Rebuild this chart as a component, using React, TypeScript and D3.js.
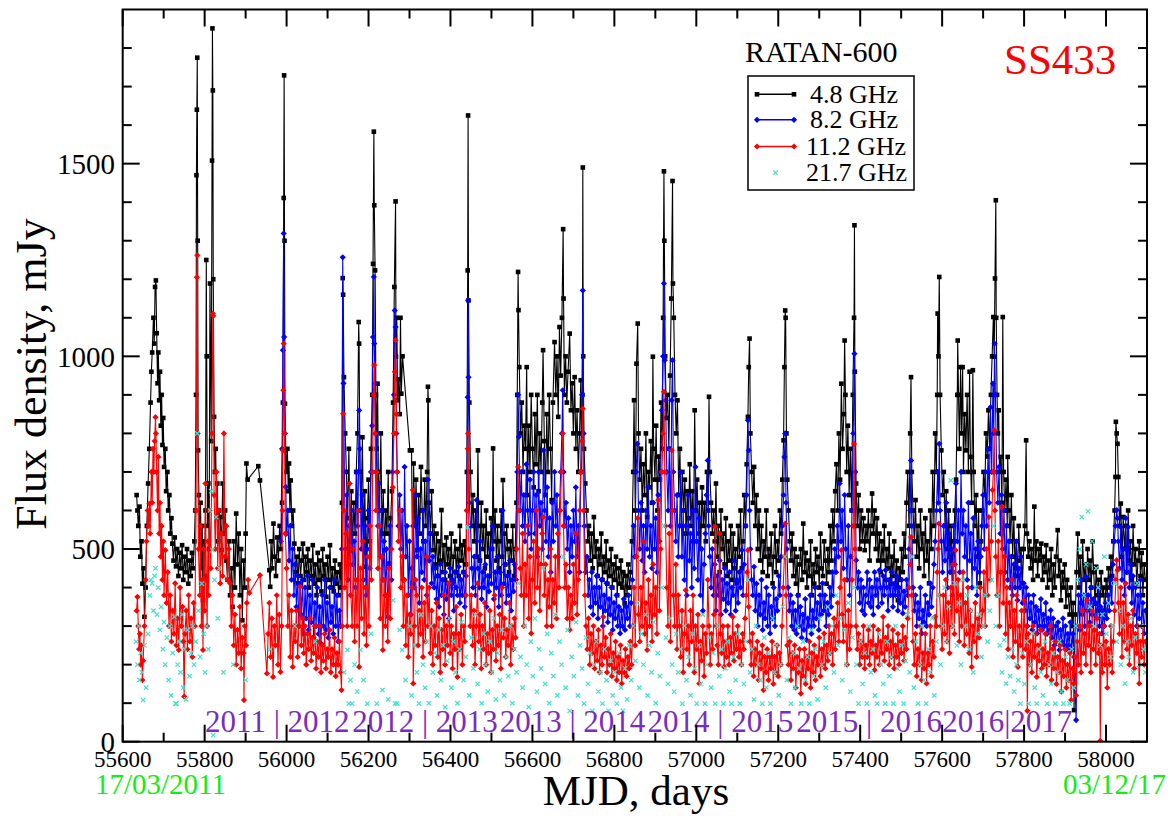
import React from "react";
import * as d3 from "d3";

// RATAN-600 monitoring of SS433, flux density (mJy) vs MJD.
// Days are counted from MJD 55600.
const MJD_ZERO = 55600;

const flux48: [number, number][] = [
  [34,640],[36,600],[38,560],[41,610],[43,480],[46,520],[48,410],[51,450],[53,324],[56,400],[59,560],[62,670],[65,760],[68,880],[70,960],[72,1010],[75,1100],[77,1033],[79,1180],[81,1197],[83,1060],[85,930],[87,1010],[89,886],[91,960],[93,820],[95,900],[97,770],[99,840],[101,713],[104,760],[106,650],[109,700],[111,600],[114,640],[116,540],[119,580],
  [121,514],[124,470],[127,530],[130,455],[133,500],[136,430],[139,490],[142,450],[145,510],[148,420],[151,480],[154,440],[157,500],[160,410],[163,470],[166,430],[169,490],[172,450],[175,520],
  [177,600],[179,900],[180,1470],[181,1640],[182,1775],[183,1300],[184,756],[186,640],[188,500],[190,620],[192,450],[194,560],[196,367],[198,520],[200,430],[202,600],[204,1250],[205,1000],[207,560],[209,670],[211,500],[213,1189],[216,780],[218,1508],[219,1851],[220,1690],[221,1200],[223,843],[225,700],[227,760],[229,583],[231,670],[233,520],[235,600],
  [238,583],[241,497],[244,670],[247,540],[250,600],[253,470],[256,420],[259,520],[262,380],[265,450],[268,350],[271,520],[274,400],[277,592],[280,460],[283,540],[286,380],[289,500],[292,315],[295,470],[298,400],[300,540],[302,722],[305,680],[331,715],[335,678],[358,445],[360,402],
  [362,520],[365,450],[368,566],[371,480],[374,430],[377,530],[380,470],[383,560],[386,500],[389,620],[391,880],[393,1411],[394,1729],[395,1300],[396,877],[398,756],[400,700],[402,760],[404,650],[406,722],[408,600],[410,678],[413,560],[416,600],
  [419,514],[422,440],[425,480],[428,411],[431,500],[434,430],[437,470],[440,514],[443,420],[446,480],[449,440],[452,500],[455,400],[458,470],[461,430],[464,510],[467,410],[470,460],[473,380],[476,490],[479,420],[482,470],[485,390],[488,500],[491,430],[494,460],[497,376],[500,480],[503,420],[506,510],[509,400],[512,450],[515,390],[518,470],[521,410],[524,440],[527,380],[530,460],[533,400],[535,620],[537,1203],[538,1160],[540,946],[543,800],
  [546,700],[549,580],[552,760],[555,520],[558,650],[561,497],[564,620],[567,540],[570,700],[573,800],[576,1089],[577,1033],[579,700],[582,600],[585,790],[588,520],[591,650],[594,454],[597,580],[600,680],[603,520],[606,760],[609,900],[611,1240],[613,1583],[614,1392],[616,1223],[618,900],[620,760],[622,929],[624,700],[627,600],[630,800],[633,540],[636,650],[639,497],[642,600],[645,540],[648,700],[651,462],[654,580],[657,650],[660,880],[663,1180],[666,1402],[667,999],[669,1100],[671,886],[673,940],[676,850],
  [678,1100],[680,903],[683,1000],[701,756],[705,756],[708,411],[710,722],[713,560],[716,680],[719,497],[722,640],[725,540],[728,713],[731,600],[734,520],[737,680],[740,560],[743,700],[745,921],[746,886],[748,620],[751,540],[754,650],[757,497],[760,560],[763,460],[766,540],[769,430],[772,520],[775,470],[778,601],[781,440],[784,510],[787,420],[790,530],[793,460],[796,500],[799,430],[802,540],[805,411],[808,480],[811,520],[814,440],[817,500],[820,430],[823,560],[826,470],[829,510],[832,440],[835,520],[838,460],[840,700],[842,1223],[843,1625],[844,1145],[846,880],
  [849,700],[852,560],[855,640],[858,520],[861,600],[864,480],[867,756],[869,560],[872,470],[875,620],[878,500],[881,560],[884,450],[887,600],[890,480],[893,540],[896,430],[899,580],[902,500],[904,761],[906,520],[909,600],[912,470],[915,560],[918,450],[921,520],[924,600],[926,480],[928,679],[931,540],[934,460],[937,560],[940,500],[943,440],[946,520],[949,470],[952,560],[955,430],[958,500],[961,620],
  [963,900],[965,1219],[966,1120],[968,972],[971,800],[974,880],[977,700],[980,820],[983,760],[986,972],[988,640],[991,820],[994,700],[997,900],[1000,760],[1003,660],[1006,850],[1009,720],[1012,900],[1015,650],[1018,800],[1021,700],[1024,880],[1026,1016],[1029,780],[1032,640],[1035,850],[1038,700],[1041,900],[1044,760],[1047,627],[1050,880],[1054,1037],[1057,900],[1060,1000],[1063,843],[1066,1076],[1069,950],[1072,1100],[1075,1330],[1076,1150],[1078,900],[1081,1000],[1084,880],[1087,960],[1091,1059],[1094,860],[1097,930],[1100,800],[1103,946],[1106,760],[1109,860],[1112,700],[1115,800],[1118,938],[1120,700],[1122,900],[1123,1490],[1124,1000],[1126,760],[1129,670],
  [1132,600],[1135,520],[1138,560],[1141,470],[1144,540],[1147,450],[1150,583],[1153,480],[1156,520],[1159,430],[1162,500],[1165,460],[1168,540],[1171,420],[1174,480],[1177,440],[1180,520],[1183,410],[1186,470],[1189,430],[1192,500],[1195,400],[1198,460],[1201,420],[1204,480],[1207,380],[1210,450],[1213,410],[1216,470],[1219,400],[1222,440],[1225,359],[1228,430],[1231,380],[1234,460],[1237,400],[1240,440],[1243,520],
  [1246,700],[1248,886],[1251,600],[1254,981],[1257,1085],[1259,800],[1262,680],[1265,760],[1268,600],[1271,720],[1274,640],[1277,800],[1280,583],[1283,700],[1286,660],[1289,780],[1292,620],[1294,999],[1296,760],[1299,680],[1302,820],[1305,600],[1308,740],[1311,680],[1314,880],[1317,760],[1319,1100],[1321,1480],[1322,1300],[1324,1000],[1327,840],[1330,900],[1333,760],[1336,950],[1339,1150],[1342,1455],[1343,1189],[1345,1100],[1348,900],[1351,800],
  [1354,886],[1357,640],[1360,760],[1363,560],[1366,700],[1369,600],[1372,680],[1375,540],[1378,650],[1381,580],[1384,720],[1387,560],[1390,650],[1393,520],[1396,860],[1399,600],[1402,680],[1405,540],[1408,620],[1411,500],[1414,660],[1417,560],[1420,620],[1423,520],[1426,700],[1429,600],[1431,895],[1433,700],[1436,620],[1439,540],[1442,600],[1445,520],[1448,670],[1451,480],[1454,560],[1457,440],[1460,600],[1463,500],[1466,540],[1469,460],[1472,580],[1475,430],[1478,520],[1481,470],[1484,560],[1487,420],[1490,540],[1493,450],[1496,500],[1499,411],[1502,560],[1505,480],[1508,600],[1511,450],[1514,520],[1517,640],[1520,560],[1523,720],[1526,843],[1528,972],[1530,1046],[1532,800],
  [1535,700],[1538,620],[1541,713],[1544,560],[1547,640],[1550,500],[1553,600],[1556,470],[1559,560],[1562,440],[1565,520],[1568,480],[1571,600],[1574,430],[1577,500],[1580,460],[1583,540],[1586,411],[1589,480],[1592,560],[1595,440],[1598,520],[1601,470],[1604,600],[1607,540],[1610,680],[1613,782],[1615,972],[1617,1119],[1618,1100],[1620,800],[1622,680],[1625,600],[1628,520],
  [1631,470],[1634,540],[1637,430],[1640,500],[1643,410],[1646,480],[1649,380],[1652,460],[1655,500],[1658,420],[1661,566],[1664,440],[1667,490],[1670,400],[1673,470],[1676,430],[1679,520],[1682,380],[1685,460],[1688,410],[1691,500],[1694,440],[1697,480],[1700,400],[1703,540],[1706,450],[1709,430],[1712,520],[1715,470],[1718,410],[1721,500],[1724,440],[1727,560],[1730,470],[1733,600],[1736,520],[1739,650],
  [1742,720],[1745,600],[1748,800],[1751,680],[1754,929],[1757,760],[1760,850],[1762,1041],[1764,900],[1767,700],[1770,820],[1773,640],[1776,760],[1779,600],[1782,900],[1785,1100],[1786,1340],[1787,960],[1790,670],[1793,560],[1796,640],[1799,500],[1802,600],[1805,520],[1808,580],[1811,497],[1814,560],
  [1817,520],[1820,600],[1823,470],[1826,560],[1829,644],[1832,540],[1835,600],[1838,500],[1841,580],[1844,470],[1847,540],[1850,440],[1853,520],[1856,470],[1859,560],[1862,420],[1865,500],[1868,450],[1871,540],[1874,410],[1877,480],[1880,430],[1883,520],[1886,400],[1889,470],[1892,367],[1895,450],[1898,420],[1901,500],[1904,440],[1907,540],[1910,480],
  [1913,620],[1916,700],[1919,560],[1922,800],[1924,946],[1926,700],[1929,600],[1932,520],[1935,627],[1938,480],[1941,560],[1944,450],[1947,600],[1950,500],[1953,540],[1956,430],[1959,580],[1962,470],[1965,520],[1968,411],[1971,600],[1974,500],[1977,700],[1980,560],[1983,800],[1986,700],[1988,900],[1989,1111],[1991,1000],[1993,1206],[1995,900],[1998,756],[2001,640],[2004,700],[2007,560],[2010,650],[2013,500],[2016,600],[2019,480],[2022,560],[2025,440],[2028,520],[2031,600],[2034,680],[2037,900],[2038,1041],
  [2040,900],[2042,760],[2045,972],[2047,800],[2050,972],[2052,700],[2055,850],[2058,756],[2061,900],[2064,700],[2067,960],[2069,739],[2072,620],[2075,964],[2077,700],[2080,560],[2083,640],[2086,480],[2089,600],[2092,411],[2095,520],[2098,600],[2101,700],[2104,640],[2107,800],[2110,740],[2113,860],[2116,760],[2119,900],[2122,1000],[2125,1102],[2127,999],[2129,1202],[2131,1405],[2132,1100],
  [2134,900],[2136,800],[2138,860],[2140,700],[2143,739],[2146,620],[2148,1102],[2150,700],[2153,600],[2156,680],[2159,560],[2160,739],[2163,600],[2166,520],[2169,640],[2172,480],[2175,580],[2178,450],[2181,520],[2184,430],[2187,560],[2190,470],[2193,500],[2196,411],
  [2199,500],[2202,560],[2205,782],[2207,540],[2210,480],[2213,520],[2216,450],[2219,500],[2222,420],[2225,610],[2227,470],[2230,520],[2233,430],[2236,500],[2239,470],[2242,514],[2245,420],[2248,480],[2251,440],[2254,510],[2257,400],[2260,470],[2263,420],[2266,500],[2269,380],[2272,460],[2275,400],[2278,480],[2282,549],[2284,430],[2287,470],[2290,367],[2293,440],[2296,400],[2299,460],[2302,350],[2305,420],[2308,380],[2311,330],[2314,400],[2317,300],[2320,360],[2322,82],
  [2325,330],[2328,440],[2331,540],[2334,400],[2337,480],[2340,360],[2343,520],[2346,420],[2349,460],[2352,380],[2355,500],[2358,420],[2361,470],[2364,400],[2367,520],[2370,440],[2373,358],[2376,454],[2379,380],[2382,420],[2385,340],[2388,440],[2391,380],[2394,400],[2397,324],[2400,420],[2403,380],[2406,450],[2409,400],[2412,480],[2415,430],[2418,520],[2421,600],[2423,687],[2424,830],[2426,800],[2428,773],[2430,687],[2433,560],[2436,618],[2439,480],[2442,583],[2445,500],[2448,560],[2451,440],[2454,600],[2457,470],[2460,520],[2463,420],[2466,560],[2469,460],[2472,500],[2475,411],[2478,470],[2481,520],[2484,430],[2487,490],[2490,380],[2493,460],[2496,420],
];

const flux82: [number, number][] = [
  [386,520],[389,760],[391,1016],[393,1319],[394,1050],[396,800],[398,661],[400,540],[403,600],[406,470],[409,560],[412,420],[415,500],[418,380],[421,460],[424,350],[427,430],[430,300],[433,410],[436,330],[439,420],[442,280],[445,400],[448,320],[451,430],[454,290],[457,380],[460,310],[463,420],[466,270],[469,360],[472,300],[475,400],[478,280],[481,350],[484,255],[487,380],[490,300],[493,420],[496,290],[499,360],[502,270],[505,400],[508,310],[511,350],[514,280],[517,420],[520,300],[523,380],[526,260],[529,340],[532,300],[535,500],[537,1257],[539,930],[541,700],[544,500],[547,640],[550,420],[553,560],[556,380],[559,600],[562,460],[565,520],[568,400],[571,700],[574,560],[577,860],[579,760],[582,500],[585,640],[588,420],[591,560],[594,380],[597,500],[600,600],[603,450],[606,700],[609,820],[611,1050],[613,1206],[614,1033],[616,929],[618,700],[620,800],[623,560],[626,670],[629,480],[632,600],[635,420],[638,520],[641,380],[644,500],[647,324],[650,460],[653,560],[656,420],[659,700],[662,900],[664,1119],[666,1076],[668,800],[670,700],[673,560],[676,640],[679,500],[682,600],[685,420],[688,713],[691,480],[694,560],[697,380],[700,520],[703,330],[706,450],[709,560],[712,400],[715,640],[718,480],[721,580],[724,360],
  [727,500],[730,440],[733,600],[736,420],[739,520],[742,380],[745,680],[748,470],[751,540],[754,411],[757,480],[760,400],[763,450],[766,370],[769,430],[772,350],[775,460],[778,380],[781,420],[784,330],[787,440],[790,370],[793,410],[796,320],[799,450],[802,380],[805,420],[808,340],[811,440],[814,400],[817,380],[820,454],[823,360],[826,420],[829,380],[832,440],[835,350],[838,430],[840,600],[842,894],[843,1145],[844,946],[846,620],[849,560],[852,450],[855,400],[858,480],[861,380],[864,627],[867,450],[870,400],[873,520],[876,370],[879,440],[882,400],[885,460],[888,350],[891,430],[894,390],[897,500],[900,410],[903,560],[906,370],[909,440],[912,400],[915,480],[918,350],[921,440],[924,380],[927,600],[930,410],[933,460],[936,360],[939,430],[942,380],[945,470],[948,340],[951,420],[954,390],[957,460],[960,420],
  [963,700],[965,900],[967,791],[970,600],[973,700],[976,560],[979,640],[982,520],[985,720],[988,600],[991,540],[994,680],[997,500],[1000,600],[1003,700],[1006,540],[1009,640],[1012,480],[1015,700],[1018,560],[1021,620],[1024,500],[1027,756],[1030,600],[1033,520],[1036,660],[1039,480],[1042,580],[1045,440],[1048,620],[1051,520],[1054,700],[1057,560],[1060,640],[1063,480],[1066,600],[1069,700],[1072,800],[1074,912],[1076,700],[1079,560],[1082,620],[1085,500],[1088,580],[1091,440],[1094,560],[1097,480],[1100,600],[1103,520],[1106,660],[1109,480],[1112,560],[1115,440],[1118,700],[1121,900],[1123,1171],[1125,800],[1127,560],[1130,440],
  [1133,480],[1136,380],[1139,420],[1142,350],[1145,440],[1148,330],[1151,400],[1154,360],[1157,430],[1160,320],[1163,400],[1166,350],[1169,420],[1172,300],[1175,380],[1178,340],[1181,411],[1184,310],[1187,370],[1190,330],[1193,400],[1196,290],[1199,360],[1202,320],[1205,380],[1208,300],[1211,350],[1214,281],[1217,340],[1220,300],[1223,370],[1226,290],[1229,350],[1232,320],[1235,380],[1238,300],[1241,360],[1244,420],
  [1247,560],[1250,480],[1253,700],[1256,773],[1259,600],[1262,500],[1265,620],[1268,470],[1271,560],[1274,440],[1277,600],[1280,500],[1283,660],[1286,480],[1289,560],[1292,450],[1295,620],[1298,500],[1301,580],[1304,440],[1307,640],[1310,520],[1313,700],[1316,860],[1319,1000],[1321,1189],[1323,990],[1325,886],[1328,700],[1331,600],[1334,760],[1337,560],[1340,886],[1342,990],[1344,700],[1347,600],[1350,520],[1353,640],[1356,480],
  [1359,560],[1362,700],[1365,480],[1368,600],[1371,420],[1374,560],[1377,380],[1380,640],[1383,470],[1386,540],[1389,400],[1392,600],[1395,450],[1398,713],[1401,520],[1404,420],[1407,580],[1410,380],[1413,500],[1416,340],[1419,460],[1422,540],[1425,640],[1428,730],[1430,560],[1433,480],[1436,400],[1439,500],[1442,380],[1445,460],[1448,340],[1451,430],[1454,380],[1457,470],[1460,330],[1463,420],[1466,370],[1469,450],[1472,340],[1475,410],[1478,360],[1481,440],[1484,330],[1487,400],[1490,380],[1493,470],[1496,340],[1499,420],[1502,360],[1505,440],[1508,400],[1511,497],[1514,380],[1517,460],[1520,560],[1523,640],[1526,834],[1528,756],[1530,600],[1532,500],
  [1535,420],[1538,380],[1541,454],[1544,340],[1547,410],[1550,300],[1553,380],[1556,330],[1559,420],[1562,290],[1565,360],[1568,320],[1571,400],[1574,300],[1577,380],[1580,281],[1583,350],[1586,320],[1589,400],[1592,300],[1595,370],[1598,340],[1601,430],[1604,380],[1607,480],[1610,560],[1613,640],[1615,739],[1617,800],[1619,620],[1621,500],[1624,400],[1627,340],
  [1630,380],[1633,300],[1636,360],[1639,290],[1642,340],[1645,280],[1648,380],[1651,300],[1654,350],[1657,270],[1660,330],[1663,290],[1666,370],[1669,264],[1672,320],[1675,300],[1678,380],[1681,280],[1684,340],[1687,300],[1690,400],[1693,320],[1696,360],[1699,290],[1702,380],[1705,330],[1708,411],[1711,340],[1714,380],[1717,300],[1720,360],[1723,330],[1726,400],[1729,350],[1732,440],[1735,380],[1738,500],
  [1741,440],[1744,560],[1747,480],[1750,670],[1753,520],[1756,600],[1759,450],[1762,640],[1765,500],[1768,420],[1771,560],[1774,380],[1777,480],[1780,600],[1783,800],[1786,1007],[1788,700],[1790,471],[1793,400],[1796,440],[1799,360],[1802,420],[1805,340],[1808,400],[1811,330],[1814,380],
  [1817,440],[1820,360],[1823,420],[1826,350],[1829,400],[1832,330],[1835,440],[1838,380],[1841,420],[1844,350],[1847,445],[1850,400],[1853,360],[1856,430],[1859,380],[1862,445],[1865,400],[1868,340],[1871,420],[1874,380],[1877,440],[1880,350],[1883,410],[1886,380],[1889,430],[1892,340],[1895,400],[1898,360],[1901,420],[1904,333],[1907,390],[1910,350],[1913,420],[1916,380],[1919,500],[1922,600],[1924,730],[1926,560],
  [1929,400],[1932,340],[1935,380],[1938,300],[1941,360],[1944,320],[1947,400],[1950,281],[1953,340],[1956,310],[1959,380],[1962,300],[1965,360],[1968,330],[1971,411],[1974,350],[1977,400],[1980,460],[1983,520],[1986,600],[1989,700],[1991,620],[1993,773],[1995,600],[1998,520],
  [2001,440],[2004,560],[2007,470],[2010,620],[2013,400],[2016,540],[2019,440],[2022,500],[2025,380],[2028,560],[2031,460],[2034,670],[2037,520],[2040,600],[2043,440],[2046,700],[2049,540],[2052,600],[2055,480],[2058,560],[2061,420],[2064,620],[2067,470],[2070,540],[2073,400],[2076,580],[2079,450],[2082,500],[2085,380],[2088,520],[2091,440],[2094,480],[2097,560],
  [2100,640],[2103,500],[2106,700],[2109,560],[2112,760],[2115,620],[2118,868],[2121,700],[2124,929],[2126,800],[2128,1033],[2130,900],[2133,700],[2136,620],[2139,713],[2142,540],[2145,640],[2148,500],[2151,600],[2154,440],[2157,560],[2160,420],[2163,520],[2166,400],[2169,480],[2172,380],[2175,460],[2178,400],[2181,520],[2184,367],[2187,450],[2190,400],[2193,480],[2196,360],
  [2199,411],[2202,340],[2205,400],[2208,300],[2211,380],[2214,320],[2217,360],[2220,290],[2223,380],[2226,310],[2229,350],[2232,281],[2235,340],[2238,300],[2241,370],[2244,290],[2247,330],[2250,300],[2253,360],[2256,280],[2259,320],[2262,290],[2265,341],[2268,270],[2271,320],[2274,250],[2277,300],[2280,260],[2283,310],[2286,238],[2289,290],[2292,260],[2295,320],[2298,250],[2301,300],[2304,240],[2307,280],[2310,250],[2313,310],[2316,240],[2319,280],[2322,220],[2327,56],
  [2330,300],[2333,380],[2336,290],[2339,420],[2342,330],[2345,380],[2348,300],[2351,428],[2354,340],[2357,380],[2360,310],[2363,400],[2366,330],[2369,370],[2372,290],[2375,360],[2378,320],[2381,400],[2384,300],[2387,350],[2390,281],[2393,340],[2396,300],[2399,360],[2402,320],[2405,380],[2408,340],[2411,420],[2414,360],[2417,460],[2420,520],[2423,560],[2426,601],[2428,580],[2430,520],[2433,450],[2436,557],[2439,420],[2442,500],[2445,380],[2448,580],[2451,440],[2454,557],[2457,400],[2460,460],[2463,360],[2466,430],[2469,330],[2472,400],[2475,300],[2478,380],[2481,320],[2484,420],[2487,300],[2490,360],[2493,281],[2496,340],
];

const flux112: [number, number][] = [
  [34,340],[36,376],[38,300],[40,240],[42,280],[44,200],[46,250],[48,160],[50,210],[53,300],[56,420],[58,520],[61,600],[63,560],[65,618],[67,540],[70,700],[72,620],[74,760],[76,700],[78,780],[80,842],[81,800],[83,700],[85,600],[87,739],[89,540],[91,620],[93,480],[95,560],[97,420],[99,520],[101,380],[104,497],[107,360],[110,440],[113,300],[116,380],[119,260],
  [122,340],[125,280],[128,411],[131,250],[134,320],[137,238],[140,400],[143,300],[146,350],[148,260],[150,117],[152,280],[155,340],[158,240],[161,380],[164,260],[167,320],[170,220],[173,360],[176,300],[179,600],[181,1205],[182,1262],[183,800],[185,500],[188,380],[190,560],[192,300],[194,420],[196,238],[198,500],[200,340],[202,670],[204,420],[206,300],[208,520],[210,380],[212,600],[215,450],[218,800],[220,1111],[221,1105],[223,640],[226,500],[229,700],[232,450],[235,600],
  [238,411],[241,540],[244,430],[247,800],[250,480],[253,560],[256,420],[259,500],[262,411],[265,300],[268,380],[271,250],[274,330],[277,200],[280,290],[283,230],[286,350],[289,190],[292,270],[295,230],[296,108],[298,300],[301,250],[303,360],[306,420],[309,386],[335,432],[352,177],[355,280],[358,360],[361,220],[364,320],[367,168],[370,300],[373,250],[376,380],[379,200],[382,330],[385,181],[388,300],[390,600],[391,756],[392,912],[393,1033],[395,800],[397,540],
  [400,450],[403,300],[406,380],[409,220],[412,340],[415,194],[418,300],[421,260],[424,340],[427,220],[430,300],[433,402],[436,250],[439,320],[442,230],[445,300],[448,200],[451,280],[454,240],[457,320],[460,210],[463,270],[466,230],[469,300],[472,190],[475,260],[478,220],[481,300],[484,180],[487,250],[490,210],[493,280],[496,190],[499,240],[502,220],[505,290],[508,180],[511,240],[514,200],[517,270],[520,170],[523,230],[526,200],[529,260],[532,180],[534,134],[536,300],[538,851],
  [540,600],[542,400],[545,540],[548,300],[551,460],[554,670],[557,380],[560,300],[563,500],[566,260],[569,420],[572,300],[575,600],[577,194],[580,450],[583,320],[586,520],[589,280],[592,400],[595,250],[598,480],[601,300],[604,560],[607,420],[610,700],[612,900],[614,977],[616,800],[618,600],[620,700],[623,450],[626,560],[629,320],[632,480],[635,238],[638,420],[641,300],[644,380],[647,260],[650,450],[653,320],[656,500],[659,660],[662,800],[664,960],[666,1042],[668,850],[670,700],[673,520],[676,600],
  [679,400],[682,480],[685,300],[688,420],[691,250],[694,380],[697,220],[700,330],[703,280],[706,400],[708,653],[709,151],[712,300],[715,420],[718,380],[721,250],[724,340],[727,280],[730,400],[733,220],[736,360],[739,260],[742,480],[745,300],[748,400],[751,230],[754,340],[757,200],[760,300],[763,250],[766,360],[769,220],[772,320],[775,180],[778,290],[781,240],[784,380],[787,200],[790,300],[793,250],[796,411],[799,230],[802,300],[805,190],[808,280],[811,240],[814,350],[817,168],[820,280],[823,240],[826,330],[829,200],[832,300],[835,260],[838,380],[840,600],[842,760],[843,800],[845,500],
  [848,300],[851,380],[854,250],[857,340],[860,200],[863,300],[866,411],[869,260],[872,330],[875,190],[878,300],[881,240],[884,360],[887,200],[890,280],[893,230],[896,340],[899,180],[902,290],[905,240],[908,380],[911,210],[914,300],[917,250],[920,330],[923,190],[926,400],[929,270],[932,320],[935,220],[938,290],[941,250],[944,360],[947,200],[950,300],[953,240],[956,320],[959,270],[962,500],
  [965,713],[967,600],[970,450],[973,380],[976,540],[979,300],[982,460],[985,380],[988,560],[991,320],[994,480],[997,281],[1000,420],[1003,520],[1006,360],[1009,600],[1012,400],[1015,500],[1018,340],[1021,460],[1024,540],[1026,583],[1029,380],[1032,460],[1035,300],[1038,420],[1041,350],[1044,500],[1047,300],[1050,420],[1053,360],[1056,480],[1059,320],[1062,540],[1065,400],[1068,600],[1071,700],[1074,800],[1076,560],[1079,400],[1082,460],[1085,320],[1088,400],[1091,290],[1094,380],[1097,320],[1100,460],[1103,360],[1106,540],[1109,330],[1112,420],[1115,600],[1118,700],[1121,780],[1123,864],[1125,600],[1128,380],
  [1131,300],[1134,240],[1137,320],[1140,200],[1143,280],[1146,230],[1149,300],[1152,190],[1155,260],[1158,210],[1161,290],[1164,180],[1167,250],[1170,200],[1173,324],[1176,220],[1179,270],[1182,180],[1185,240],[1188,200],[1191,280],[1194,170],[1197,230],[1200,190],[1203,260],[1206,160],[1209,220],[1212,180],[1215,250],[1218,151],[1221,210],[1224,180],[1227,240],[1230,170],[1233,220],[1236,190],[1239,260],[1242,200],
  [1245,300],[1248,400],[1251,250],[1254,480],[1257,580],[1259,330],[1262,260],[1265,400],[1268,300],[1271,520],[1274,280],[1277,360],[1280,238],[1283,420],[1286,300],[1289,380],[1292,260],[1295,460],[1298,330],[1301,400],[1304,280],[1307,627],[1310,340],[1313,500],[1316,700],[1319,800],[1321,908],[1323,700],[1325,560],[1328,400],[1331,300],[1334,540],[1337,260],[1340,756],[1342,600],[1344,380],[1347,300],[1350,460],[1353,240],[1356,380],
  [1359,300],[1362,220],[1365,340],[1368,180],[1371,280],[1374,393],[1377,240],[1380,300],[1383,200],[1386,340],[1389,260],[1392,380],[1395,180],[1398,300],[1401,240],[1404,330],[1407,151],[1410,260],[1413,210],[1416,300],[1419,170],[1422,280],[1425,230],[1428,420],[1431,300],[1434,200],[1437,280],[1440,240],[1443,330],[1446,558],[1448,300],[1451,250],[1454,200],[1457,540],[1459,280],[1462,230],[1465,300],[1468,194],[1471,260],[1474,220],[1477,300],[1480,200],[1483,270],[1486,230],[1489,324],[1492,210],[1495,280],[1498,240],[1501,300],[1504,220],[1507,260],[1510,200],[1513,280],[1516,240],[1519,320],[1522,380],[1524,440],[1526,497],[1528,350],
  [1531,260],[1534,200],[1537,281],[1540,170],[1543,240],[1546,200],[1549,260],[1552,160],[1555,230],[1558,190],[1561,250],[1564,134],[1567,220],[1570,180],[1573,240],[1576,160],[1579,220],[1582,190],[1585,260],[1588,150],[1591,220],[1594,180],[1597,250],[1600,170],[1603,230],[1606,200],[1609,300],[1612,400],[1615,480],[1617,566],[1619,380],[1622,250],[1625,200],
  [1628,260],[1631,160],[1634,230],[1637,190],[1640,250],[1643,140],[1646,220],[1649,180],[1652,240],[1655,125],[1658,210],[1661,170],[1664,240],[1667,150],[1670,220],[1673,190],[1676,260],[1679,140],[1682,230],[1685,180],[1688,250],[1691,160],[1694,220],[1697,200],[1700,270],[1703,170],[1706,240],[1709,200],[1712,281],[1715,190],[1718,250],[1721,210],[1724,300],[1727,230],[1730,280],[1733,200],[1736,320],[1739,240],
  [1742,300],[1745,360],[1748,260],[1751,400],[1754,497],[1756,330],[1759,260],[1762,420],[1765,300],[1768,200],[1771,340],[1774,240],[1777,300],[1780,420],[1783,560],[1785,773],[1787,500],[1790,300],[1793,240],[1796,280],[1799,200],[1802,260],[1805,220],[1808,300],[1811,190],[1814,250],
  [1817,220],[1820,290],[1823,200],[1826,260],[1829,230],[1832,300],[1835,186],[1838,250],[1841,220],[1844,290],[1847,200],[1850,260],[1853,230],[1856,324],[1859,210],[1862,270],[1865,240],[1868,300],[1871,200],[1874,260],[1877,220],[1880,290],[1883,190],[1886,250],[1889,220],[1892,280],[1895,200],[1898,260],[1901,230],[1904,300],[1907,210],[1910,270],[1913,240],[1916,320],[1919,400],[1922,460],[1924,531],[1926,380],
  [1929,260],[1932,200],[1935,280],[1938,170],[1941,240],[1944,200],[1947,300],[1950,160],[1953,230],[1956,190],[1959,280],[1962,151],[1965,230],[1968,200],[1971,300],[1974,170],[1977,260],[1980,220],[1983,324],[1986,300],[1988,440],[1990,500],[1992,566],[1994,380],[1997,300],
  [2000,240],[2003,380],[2006,280],[2009,420],[2012,260],[2015,360],[2018,230],[2021,400],[2024,300],[2027,460],[2030,280],[2033,497],[2036,340],[2039,420],[2042,260],[2045,380],[2048,300],[2051,440],[2054,250],[2057,360],[2060,280],[2063,400],[2066,230],[2069,340],[2072,194],[2075,300],[2078,260],[2081,360],[2084,220],[2087,320],[2090,270],[2093,400],[2096,300],
  [2099,340],[2102,440],[2105,300],[2108,500],[2111,380],[2114,583],[2117,420],[2120,520],[2123,653],[2125,700],[2127,808],[2129,600],[2131,480],[2134,380],[2137,520],[2140,300],[2143,440],[2146,610],[2149,360],[2152,480],[2155,280],[2158,400],[2161,240],[2164,360],[2167,300],[2170,420],[2173,220],[2176,340],[2179,260],[2182,380],[2185,194],[2188,300],[2191,250],[2194,340],[2197,220],
  [2200,367],[2203,240],[2206,300],[2208,80],[2210,280],[2213,200],[2216,260],[2219,180],[2222,300],[2225,220],[2228,280],[2231,168],[2234,250],[2237,210],[2240,290],[2243,190],[2246,240],[2249,200],[2252,280],[2255,170],[2258,230],[2261,200],[2264,300],[2267,160],[2270,240],[2273,190],[2276,260],[2279,150],[2282,220],[2285,180],[2288,250],[2291,130],[2294,210],[2297,170],[2300,240],[2303,140],[2306,200],[2309,160],[2312,230],[2315,108],[2318,190],[2321,150],[2324,220],[2327,120],
  [2330,260],[2333,200],[2336,300],[2339,180],[2342,340],[2345,230],[2348,280],[2351,200],[2354,367],[2357,250],[2360,300],[2363,180],[2366,340],[2369,240],[2372,290],[2375,200],[2378,320],[2381,230],[2384,280],[2386,2],[2388,250],[2391,180],[2394,300],[2397,200],[2400,260],[2403,140],[2406,240],[2409,200],[2412,300],[2415,180],[2418,260],[2421,340],[2424,420],[2426,471],[2428,445],[2430,360],
  [2433,280],[2436,400],[2439,220],[2442,360],[2445,260],[2448,411],[2451,240],[2454,330],[2457,200],[2460,300],[2463,250],[2466,340],[2469,190],[2472,280],[2475,230],[2478,300],[2481,151],[2484,260],[2487,220],[2490,300],[2493,200],[2496,260],
];

const flux217: [number, number][] = [
  [33,260],[36,200],[39,300],[41,160],[44,230],[47,180],[50,108],[53,250],[57,140],[62,280],[66,380],[69,420],[72,411],[75,340],[78,430],[80,450],[84,330],[87,400],[91,290],[94,350],[98,240],[101,310],[104,200],[108,270],[112,160],[115,300],[118,120],[122,230],[126,324],[129,99],[131,99],[134,200],[138,260],[141,180],[145,330],[148,140],[151,240],[155,110],[159,290],[163,170],[167,230],[171,300],[174,200],[178,260],[182,800],[185,340],[189,220],[193,410],[197,280],[201,180],[205,300],[209,240],[213,600],[216,650],[219,497],[221,17],[224,420],[228,583],[232,320],[236,450],[246,180],[270,200],[300,160],[360,240],[420,300],[470,260],
  [540,180],[548,238],[552,99],[556,160],[560,99],[566,200],[572,130],[580,238],[588,160],[597,99],[606,280],[620,99],[634,134],[648,110],[660,367],[665,99],[670,99],[676,290],[682,238],[690,160],[700,300],[705,120],[712,250],[718,180],[723,99],[728,330],[733,200],[738,140],[742,260],[747,100],[752,300],[757,180],[762,230],[767,120],[772,290],[777,160],[782,250],[787,90],[792,210],[797,320],[802,140],[807,260],[812,180],[817,100],[822,240],[827,310],[832,160],[837,220],[842,557],[846,120],
  [851,270],[856,190],[861,330],[866,150],[871,240],[876,100],[881,280],[886,200],[891,130],[896,260],[901,180],[906,320],[911,110],[916,230],[921,160],[926,290],[931,120],[936,220],[941,170],[946,300],[951,100],[956,240],[961,180],[966,411],[971,220],[976,140],[981,300],[986,200],[991,90],[996,260],[1001,170],[1006,320],[1011,130],[1016,240],[1021,190],[1026,450],[1031,150],[1036,280],[1041,100],[1046,230],[1051,170],[1056,330],[1061,120],[1066,260],[1071,200],[1076,480],[1081,140],[1086,290],[1091,80],[1096,220],
  [1101,170],[1106,310],[1111,120],[1116,250],[1121,190],[1126,99],[1131,270],[1136,150],[1141,230],[1146,80],[1151,200],[1156,260],[1161,130],[1166,180],[1171,99],[1176,240],[1181,160],[1186,80],[1191,210],[1196,120],[1201,180],[1206,99],[1211,230],[1216,140],[1221,80],[1226,190],[1231,110],[1236,250],[1241,160],[1246,300],[1251,210],[1256,360],[1261,140],[1266,280],[1271,200],[1276,330],[1281,120],[1286,250],[1291,180],[1296,310],[1301,100],[1306,230],[1311,170],[1316,400],[1321,560],[1326,270],[1331,150],[1336,320],[1341,200],[1346,130],
  [1351,280],[1356,180],[1361,240],[1366,99],[1371,300],[1376,160],[1381,220],[1386,120],[1391,280],[1396,190],[1401,99],[1406,250],[1411,150],[1416,330],[1421,99],[1426,200],[1431,270],[1436,140],[1441,230],[1446,99],[1451,300],[1456,170],[1461,240],[1466,99],[1471,190],[1476,260],[1481,130],[1486,99],[1491,220],[1496,160],[1501,280],[1506,99],[1511,200],[1516,150],[1521,260],[1526,420],[1531,180],[1536,240],[1541,110],[1546,300],[1551,200],[1556,160],[1561,99],[1566,270],[1571,140],[1576,230],[1581,99],[1586,320],[1591,180],[1596,250],
  [1601,120],[1606,200],[1611,350],[1616,480],[1621,160],[1626,270],[1631,99],[1636,230],[1641,140],[1646,300],[1651,190],[1656,99],[1661,260],[1666,160],[1671,220],[1676,99],[1681,290],[1686,170],[1691,240],[1696,110],[1701,320],[1706,200],[1711,260],[1716,140],[1721,350],[1726,230],[1731,300],[1736,180],[1741,380],[1746,250],[1751,320],[1756,160],[1761,290],[1766,200],[1771,360],[1776,130],[1781,270],[1786,400],[1791,200],[1796,99],
  [1801,260],[1806,150],[1811,230],[1816,99],[1821,300],[1826,180],[1831,240],[1836,120],[1841,99],[1846,280],[1851,200],[1856,150],[1861,99],[1866,260],[1871,170],[1876,220],[1881,99],[1886,300],[1891,190],[1896,130],[1901,250],[1906,99],[1911,210],[1916,330],[1921,180],[1926,480],[1931,140],[1936,260],[1941,99],[1946,200],[1951,300],[1956,160],[1961,99],[1966,240],[1971,180],[1976,320],[1981,120],[1986,260],[1991,380],[1996,200],
  [2001,300],[2006,400],[2011,260],[2016,350],[2021,678],[2026,300],[2031,411],[2036,250],[2041,360],[2046,200],[2051,420],[2056,300],[2061,380],[2066,240],[2071,340],[2076,180],[2081,400],[2086,280],[2091,330],[2096,220],[2101,300],[2106,380],[2111,260],[2116,340],[2121,420],[2126,560],[2131,300],[2136,380],[2141,250],[2146,180],[2151,264],[2156,151],[2161,220],[2166,170],[2171,240],[2176,130],[2181,200],[2186,160],[2191,99],[2196,230],
  [2201,150],[2206,260],[2211,99],[2216,200],[2221,281],[2226,140],[2231,99],[2236,240],[2241,180],[2246,120],[2251,260],[2256,99],[2261,200],[2266,150],[2271,230],[2276,99],[2281,180],[2286,260],[2291,130],[2296,99],[2301,220],[2306,160],[2311,99],[2316,240],[2321,140],[2326,300],[2331,420],[2336,500],[2341,583],[2346,380],[2351,460],[2356,598],[2361,350],[2366,520],[2371,300],[2376,450],[2381,400],[2386,250],[2391,330],[2396,480],
  [2401,280],[2406,360],[2411,220],[2416,300],[2421,411],[2426,260],[2431,340],[2436,200],[2441,300],[2446,151],[2451,260],[2456,220],[2461,320],[2466,180],[2471,270],[2476,411],[2481,200],[2486,300],[2491,240],[2496,180],
];

const xTickValues = [55600, 55800, 56000, 56200, 56400, 56600, 56800, 57000, 57200, 57400, 57600, 57800, 58000];
const yTickValues = [0, 500, 1000, 1500];
const yearLabels = ["2011 | 2012", "2012 | 2013", "2013 | 2014", "2014 | 2015", "2015 | 2016", "2016|2017"];
const yearLabelMjd = [55801, 56160, 56520, 56881, 57244, 57600];
const legendNames = ["4.8 GHz", "8.2 GHz", "11.2 GHz", "21.7 GHz"];

const W = 1176;
const H = 818;
const FONT = "'Liberation Serif', 'Times New Roman', serif";

const series = [
  { key: "f48", data: flux48, color: "#000000", marker: "square" },
  { key: "f82", data: flux82, color: "#0000ff", marker: "diamond" },
  { key: "f112", data: flux112, color: "#ff0000", marker: "diamond" },
  { key: "f217", data: flux217, color: "#40e0d0", marker: "cross" },
];

function Marker({ type, cx, cy, color }: { type: string; cx: number; cy: number; color: string }) {
  if (type === "square") {
    return <rect x={cx - 2.3} y={cy - 2.3} width={4.6} height={4.6} fill={color} />;
  }
  if (type === "diamond") {
    const r = 3.1;
    return <path d={`M${cx},${cy - r}L${cx + r},${cy}L${cx},${cy + r}L${cx - r},${cy}Z`} fill={color} />;
  }
  const r = 2.2;
  return (
    <path
      d={`M${cx - r},${cy - r}L${cx + r},${cy + r}M${cx - r},${cy + r}L${cx + r},${cy - r}`}
      stroke={color}
      strokeWidth={1.2}
      fill="none"
    />
  );
}

export default function App() {
  const left = 122.7;
  const right = 1147;
  const top = 9.5;
  const bottom = 741.7;

  const x = d3.scaleLinear().domain([55600, 58100]).range([left, right]);
  const y = d3.scaleLinear().domain([0, 1900]).range([bottom, top]);

  const line = d3
    .line<[number, number]>()
    .x((d) => x(MJD_ZERO + d[0]))
    .y((d) => y(d[1]));

  const xMinor = x.ticks(25);
  const yMinor = y.ticks(19).filter((v) => v <= 1800);

  const legendX1 = 757;
  const legendX2 = 794;
  const legendRows = [94.3, 119.8, 146.5, 172.7];

  return (
    <div style={{ position: "absolute", left: 0, top: 0 }}>
      <svg width={W} height={H} style={{ display: "block", background: "#fff" }} fontFamily={FONT}>
        <defs>
          <clipPath id="plotClip">
            <rect x={left} y={top} width={right - left} height={bottom - top} />
          </clipPath>
        </defs>

        <g clipPath="url(#plotClip)">
          {series.map((s) => (
            <g key={s.key}>
              {s.marker !== "cross" && (
                <path d={line(s.data) || ""} fill="none" stroke={s.color} strokeWidth={1.1} />
              )}
              {s.data.map((d, i) => (
                <Marker key={i} type={s.marker} cx={x(MJD_ZERO + d[0])} cy={y(d[1])} color={s.color} />
              ))}
            </g>
          ))}
        </g>

        {/* year labels */}
        {yearLabels.map((t, i) => (
          <text key={t} x={x(yearLabelMjd[i])} y={732} fontSize={31} fill="#7a2cc2">
            {t}
          </text>
        ))}

        {/* frame */}
        <rect x={left} y={top} width={right - left} height={bottom - top} fill="none" stroke="#000" strokeWidth={2} />

        {/* ticks */}
        {xMinor.map((v) => {
          const major = xTickValues.includes(v);
          const len = major ? 17 : 9;
          return (
            <g key={`xt${v}`} stroke="#000" strokeWidth={2}>
              <line x1={x(v)} x2={x(v)} y1={bottom} y2={bottom - len} />
              <line x1={x(v)} x2={x(v)} y1={top} y2={top + len} />
            </g>
          );
        })}
        {yMinor.map((v) => {
          const major = yTickValues.includes(v);
          const len = major ? 17 : 9;
          return (
            <g key={`yt${v}`} stroke="#000" strokeWidth={2}>
              <line x1={left} x2={left + len} y1={y(v)} y2={y(v)} />
              <line x1={right} x2={right - len} y1={y(v)} y2={y(v)} />
            </g>
          );
        })}

        {xTickValues.map((v) => (
          <text key={`xl${v}`} x={x(v)} y={767} fontSize={23} textAnchor="middle" fill="#000">
            {v}
          </text>
        ))}
        {yTickValues.map((v) => (
          <text key={`yl${v}`} x={115} y={y(v)} dy="0.36em" fontSize={29} textAnchor="end" fill="#000">
            {v}
          </text>
        ))}

        {/* axis titles */}
        <text x={636} y={805} fontSize={43} textAnchor="middle" fill="#000">
          MJD, days
        </text>
        <text transform="translate(46,374) rotate(-90)" fontSize={44} textAnchor="middle" fill="#000">
          Flux density, mJy
        </text>

        {/* dates */}
        <text x={95} y={794} fontSize={29} fill="#11ee11">
          17/03/2011
        </text>
        <text x={1063} y={794} fontSize={29} fill="#11ee11">
          03/12/17
        </text>

        {/* annotations */}
        <text x={745} y={61.5} fontSize={30} fill="#000">
          RATAN-600
        </text>
        <text x={1004} y={74} fontSize={43} fill="#ff0000">
          SS433
        </text>

        {/* legend */}
        <rect x={748} y={76} width={166} height={114} fill="#fff" stroke="#000" strokeWidth={1.5} />
        {series.map((s, i) => {
          const ly = legendRows[i];
          return (
            <g key={`lg${s.key}`}>
              {s.marker === "cross" ? (
                <Marker type="cross" cx={(legendX1 + legendX2) / 2} cy={ly} color={s.color} />
              ) : (
                <>
                  <line x1={legendX1} x2={legendX2} y1={ly} y2={ly} stroke={s.color} strokeWidth={1.5} />
                  <Marker type={s.marker} cx={legendX1} cy={ly} color={s.color} />
                  <Marker type={s.marker} cx={legendX2} cy={ly} color={s.color} />
                </>
              )}
              <text x={i < 2 ? 810 : 806} y={ly + 8.5} fontSize={26} fill="#000">
                {legendNames[i]}
              </text>
            </g>
          );
        })}
      </svg>
    </div>
  );
}
